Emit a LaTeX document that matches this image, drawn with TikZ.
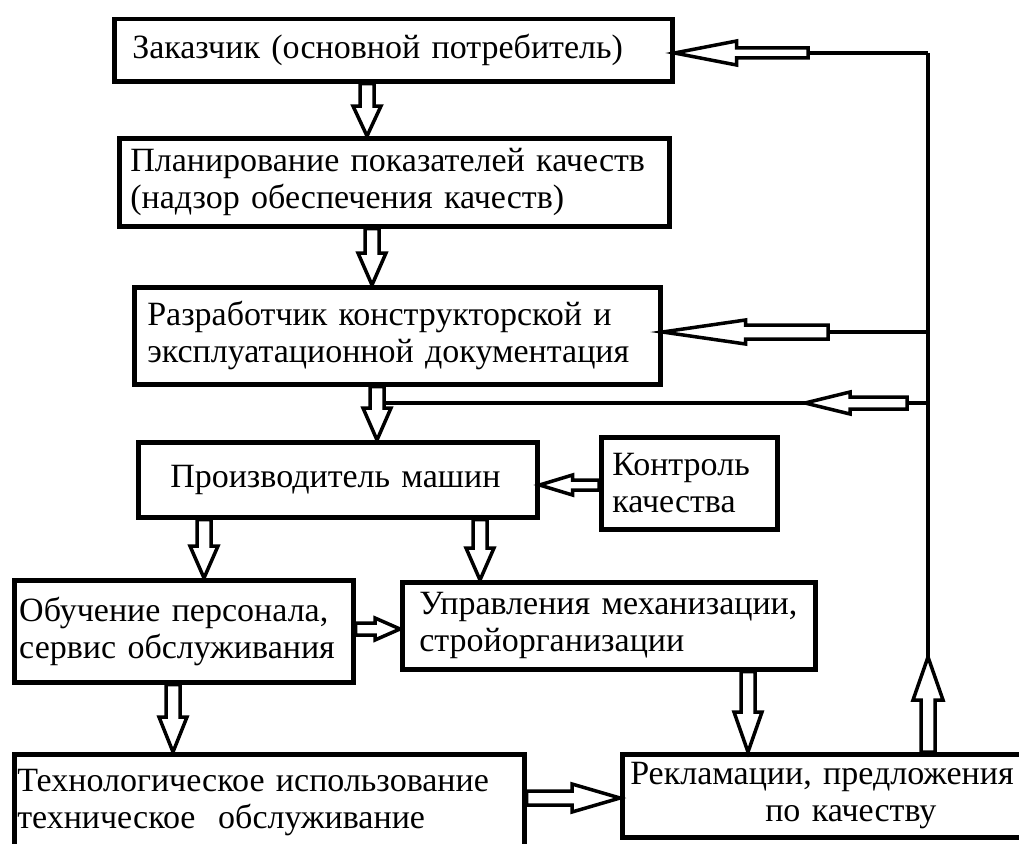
\documentclass[tikz,border=0pt]{standalone}
\usepackage{fontspec}
\setmainfont{Liberation Serif}
\usetikzlibrary{calc}
\tikzset{
  box/.style={draw, line width=4.5pt, rectangle, anchor=north west, inner ysep=0pt,
    align=left, font=\fontsize{34}{37}\selectfont},
  fat/.style={draw, line width=3.5pt, line join=miter},
  fb/.style={line width=4pt},
}
% #1 start, #2 tip, #3 half shaft, #4 half head, #5 head length (pt)
\newcommand\fatarrow[5]{%
  \draw[fat] let \p1=(#1), \p2=(#2), \n1={atan2(\y2-\y1,\x2-\x1)},
    \n2={veclen(\x2-\x1,\y2-\y1)-#5} in
    ($(\p1)+({\n1+90}:#3)$) -- ($(\p1)+(\n1:\n2)+({\n1+90}:#3)$)
    -- ($(\p1)+(\n1:\n2)+({\n1+90}:#4)$) -- (\p2)
    -- ($(\p1)+(\n1:\n2)+({\n1-90}:#4)$) -- ($(\p1)+(\n1:\n2)+({\n1-90}:#3)$)
    -- ($(\p1)+({\n1-90}:#3)$) -- cycle;}
\begin{document}
\begin{tikzpicture}[x=1pt,y=-1pt]
\useasboundingbox (0,0) rectangle (1019,843);

\node[box, inner xsep=18pt, text width=522pt, minimum height=62pt] (b1) at (112,17)
  {\mbox{Заказчик (основной потребитель)}};
\node[box, inner xsep=11pt, text width=528pt, minimum height=88pt] (b2) at (117,136)
  {\mbox{Планирование показателей качеств}\\\mbox{(надзор обеспечения качеств)}};
\node[box, inner xsep=13pt, text width=500pt, minimum height=97pt] (b3) at (132,285)
  {\mbox{Разработчик конструкторской и}\\\mbox{эксплуатационной документация}};
\node[box, inner xsep=32pt, text width=335pt, minimum height=75pt] (b4) at (136,440)
  {\mbox{Производитель машин}};
\node[box, inner xsep=11pt, text width=154pt, minimum height=92pt] (bk) at (599,435)
  {Контроль\\качества};
\node[box, inner xsep=5pt, text width=329pt, minimum height=102pt] (b5) at (12,578)
  {\mbox{Обучение персонала,}\\\mbox{сервис обслуживания}};
\node[box, inner xsep=17pt, text width=379pt, minimum height=87pt] (b6) at (400,580)
  {\mbox{Управления механизации,}\\\mbox{стройорганизации}};
\node[box, inner xsep=3pt, text width=504pt, minimum height=96pt] (b7) at (12,752)
  {\mbox{Технологическое использование}\\\mbox{техническое\ \ обслуживание}};
\node[box, inner xsep=8pt, text width=389pt, minimum height=83pt] (b8) at (620,752)
  {\mbox{Рекламации, предложения}\\\hspace*{135pt}по качеству};

% named positions
\coordinate (v1) at (367,0);
\coordinate (v2) at (372,0);
\coordinate (v3) at (377,0);
\coordinate (v4) at (204,0);
\coordinate (v5) at (480,0);
\coordinate (v6) at (173,0);
\coordinate (v7) at (748,0);
\coordinate (v8) at (928,0);
\coordinate (h1) at (0,485);
\coordinate (h2) at (0,629);
\coordinate (h3) at (0,798);
\coordinate (fbA) at (928,53);
\coordinate (fbAs) at (808,53);
\coordinate (fbB) at (928,332);
\coordinate (fbBs) at (828,332);
\coordinate (fbC) at (928,403);
\coordinate (fbCs) at (907,403);
\coordinate (fbCt) at (805,403);
\coordinate (upTip) at (928,657);

% feedback lines
\draw[fb] (fbA) -- (upTip);
\draw[fb] (fbA) -- (fbAs);
\draw[fb] (fbB) -- (fbBs);
\draw[fb] (fbC) -- (fbCs);
\draw[fb] (fbCt) -- ($(fbCt -| v3)+(7,0)$);

% main flow arrows
\fatarrow{b1.south -| v1}{b2.north -| v1}{7pt}{14pt}{30}
\fatarrow{b2.south -| v2}{b3.north -| v2}{7pt}{14pt}{32}
\fatarrow{b3.south -| v3}{b4.north -| v3}{7pt}{14pt}{32}
\fatarrow{b4.south -| v4}{b5.north -| v4}{7pt}{14pt}{32}
\fatarrow{b4.south -| v5}{b6.north -| v5}{7pt}{14pt}{32}
\fatarrow{b5.south -| v6}{b7.north -| v6}{7pt}{14pt}{35}
\fatarrow{b6.south -| v7}{b8.north -| v7}{7pt}{14pt}{40}
\fatarrow{bk.west |- h1}{b4.east |- h1}{5pt}{10pt}{33}
\fatarrow{b5.east |- h2}{b6.west |- h2}{6pt}{11pt}{25}
\fatarrow{b7.east |- h3}{b8.west |- h3}{7pt}{14pt}{48}
\fatarrow{b8.north -| v8}{upTip}{7pt}{15pt}{43}

% feedback arrows
\fatarrow{fbAs}{b1.east |- fbAs}{5pt}{12pt}{62}
\fatarrow{fbBs}{b3.east |- fbBs}{7pt}{12pt}{83}
\fatarrow{fbCs}{fbCt}{6pt}{11pt}{45}
\end{tikzpicture}
\end{document}
